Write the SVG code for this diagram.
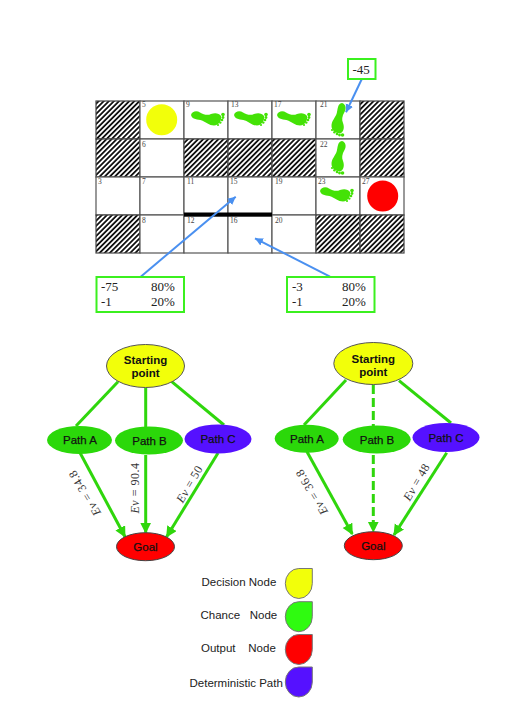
<svg xmlns="http://www.w3.org/2000/svg" width="508" height="701" viewBox="0 0 508 701">
<style>
.cell{fill:#fff;stroke:#555;stroke-width:1.2}
.hatch{fill:url(#h);stroke:#444;stroke-width:1.2}
.num{font:7.5px "Liberation Serif",serif;fill:#444}
.box{fill:#fff;stroke:#3bf01f;stroke-width:2}
.bt{font:13px "Liberation Serif",serif;fill:#222}
.b{stroke:#4a90f0;stroke-width:2;fill:none;marker-end:url(#ab)}
.g{stroke:#2fd60c;stroke-width:3;fill:none}
.ga{marker-end:url(#ag)}
.dash{stroke-dasharray:9 4}
.nt{font:bold 11.5px "Liberation Sans",sans-serif;fill:#111;text-anchor:middle}
.pt{font:11.5px "Liberation Sans",sans-serif;fill:#111;text-anchor:middle;stroke:#111;stroke-width:.25}
.ev{font:12px "Liberation Serif",serif;fill:#333;text-anchor:middle;letter-spacing:.5px}
.lt{font:11.5px "Liberation Sans",sans-serif;fill:#222;white-space:pre}
.lg{stroke:#777;stroke-width:1}
.foot{fill:#44e206}
</style>
<defs>
<pattern id="h" width="3.6" height="3.6" patternUnits="userSpaceOnUse" patternTransform="rotate(-45)"><rect width="3.6" height="3.6" fill="#fff"/><rect width="3.6" height="1.8" fill="#111"/></pattern>
<marker id="ab" markerUnits="userSpaceOnUse" markerWidth="10" markerHeight="9" refX="8" refY="4" orient="auto"><path d="M0,0L8,4L0,8Z" fill="#4a90f0"/></marker>
<marker id="ag" markerUnits="userSpaceOnUse" markerWidth="12" markerHeight="12" refX="10" refY="5.5" orient="auto"><path d="M0,0L11,5.5L0,11Z" fill="#2fd60c"/></marker>
<symbol id="f" overflow="visible">
<path class="foot" d="M-17,-4C-16,-8-11,-8.5-8,-6.5C-4,-4 0,-3.5 3,-5C7,-6.5 11,-6 13,-3C14,1 11,6.5 6,6.5C1,6.5-2,3-6,1.5C-10,0-16,1-17,-4Z"/>
<g class="foot"><circle cx="15" cy="-4.5" r="1.8"/><circle cx="15" cy="-1.5" r="1.4"/><circle cx="14" cy="1" r="1.3"/><circle cx="12.3" cy="3.6" r="1.2"/><circle cx="10" cy="6" r="1.1"/></g>
</symbol>
<path id="drop" d="M27,0V15A13.5,15 0 1 1 13.5,0Z"/>
</defs>

<g id="grid">
<rect class="hatch" x="96" y="101" width="44" height="38"/>
<rect class="cell" x="140" y="101" width="44" height="38"/>
<rect class="cell" x="184" y="101" width="44" height="38"/>
<rect class="cell" x="228" y="101" width="44" height="38"/>
<rect class="cell" x="272" y="101" width="44" height="38"/>
<rect class="cell" x="316" y="101" width="44" height="38"/>
<rect class="hatch" x="360" y="101" width="44" height="38"/>
<rect class="hatch" x="96" y="139" width="44" height="38"/>
<rect class="cell" x="140" y="139" width="44" height="38"/>
<rect class="hatch" x="184" y="139" width="44" height="38"/>
<rect class="hatch" x="228" y="139" width="44" height="38"/>
<rect class="hatch" x="272" y="139" width="44" height="38"/>
<rect class="cell" x="316" y="139" width="44" height="38"/>
<rect class="hatch" x="360" y="139" width="44" height="38"/>
<rect class="cell" x="96" y="177" width="44" height="38"/>
<rect class="cell" x="140" y="177" width="44" height="38"/>
<rect class="cell" x="184" y="177" width="44" height="38"/>
<rect class="cell" x="228" y="177" width="44" height="38"/>
<rect class="cell" x="272" y="177" width="44" height="38"/>
<rect class="cell" x="316" y="177" width="44" height="38"/>
<rect class="cell" x="360" y="177" width="44" height="38"/>
<rect class="hatch" x="96" y="215" width="44" height="38"/>
<rect class="cell" x="140" y="215" width="44" height="38"/>
<rect class="cell" x="184" y="215" width="44" height="38"/>
<rect class="cell" x="228" y="215" width="44" height="38"/>
<rect class="cell" x="272" y="215" width="44" height="38"/>
<rect class="hatch" x="316" y="215" width="44" height="38"/>
<rect class="hatch" x="360" y="215" width="44" height="38"/>
<rect x="184" y="212.5" width="88" height="4.2" fill="#000"/>
<circle cx="161.7" cy="119.7" r="15.5" fill="#f2ff0a"/>
<circle cx="382.7" cy="196" r="15.5" fill="#ff0000"/>
<g class="num">
<text x="142" y="107">5</text><text x="186" y="107">9</text><text x="231" y="107">13</text><text x="274" y="107">17</text><text x="320" y="107">21</text>
<text x="142" y="147">6</text><text x="320" y="147">22</text>
<text x="98" y="184">3</text><text x="142" y="184">7</text><text x="187" y="184">11</text><text x="230" y="184">15</text><text x="275" y="184">19</text><text x="318" y="184">23</text><text x="362" y="184">27</text>
<text x="142" y="223">8</text><text x="187" y="223">12</text><text x="230" y="223">16</text><text x="275" y="223">20</text>
</g>
<use href="#f" x="208" y="119"/>
<use href="#f" x="251" y="119"/>
<use href="#f" x="294" y="119"/>
<use href="#f" transform="translate(338,120) rotate(90)"/>
<use href="#f" transform="translate(338,158) rotate(90)"/>
<use href="#f" transform="translate(337,195)"/>
</g>

<g id="connectors">
<path class="b" d="M361.7,79.3L346,112.3"/>
<path class="b" d="M140.7,276.7L235.7,196.7"/>
<path class="b" d="M330,276.7L255,238.3"/>
<path class="g" d="M118,381.7L76,426"/>
<path class="g" d="M145.7,388V427"/>
<path class="g" d="M171.7,381.7L224,425"/>
<path class="g ga" d="M80,452.7L125,536.7"/>
<path class="g ga" d="M145.7,455V532.7"/>
<path class="g ga" d="M218,453L166.7,536.7"/>
<path class="g" d="M346,380L304,425"/>
<path class="g dash" d="M373.3,385V427"/>
<path class="g" d="M399,380.7L451,423"/>
<path class="g ga" d="M307,451.7L352.3,534"/>
<path class="g ga dash" d="M373.3,455V531.7"/>
<path class="g ga" d="M446.7,452.7L394,535"/>
</g>

<g id="box45"><rect class="box" x="348" y="59" width="27.5" height="20"/><text class="bt" x="352.5" y="73.5">-45</text></g>
<g id="boxL"><rect class="box" x="96.5" y="277" width="87.5" height="35"/><text class="bt" x="101" y="291">-75</text><text class="bt" x="151" y="291">80%</text><text class="bt" x="101" y="306">-1</text><text class="bt" x="151" y="306">20%</text></g>
<g id="boxR"><rect class="box" x="287" y="277" width="87.5" height="35"/><text class="bt" x="292" y="291">-3</text><text class="bt" x="342" y="291">80%</text><text class="bt" x="292" y="306">-1</text><text class="bt" x="342" y="306">20%</text></g>

<g id="l-start"><ellipse cx="145.5" cy="366" rx="39" ry="21.5" fill="#f2ff0a" stroke="#555"/><text class="nt" x="145.5" y="364">Starting</text><text class="nt" x="145.5" y="377">point</text></g>
<g id="l-a"><ellipse cx="79.5" cy="440" rx="32.5" ry="14" fill="#2bd80a"/><text class="pt" x="80" y="444">Path A</text></g>
<g id="l-b"><ellipse cx="149" cy="440.5" rx="34" ry="14" fill="#2bd80a"/><text class="pt" x="149.5" y="444.5">Path B</text></g>
<g id="l-c"><ellipse cx="218" cy="439" rx="33.5" ry="14.5" fill="#5511ff"/><text class="pt" x="218" y="443">Path C</text></g>
<g id="l-goal"><ellipse cx="145.5" cy="546.7" rx="29" ry="14" fill="#f00" stroke="#444"/><text class="pt" x="145.5" y="551">Goal</text></g>
<text class="ev" transform="translate(88,491) rotate(238.7)"><tspan font-style="italic">Ev</tspan> = 34.8</text>
<text class="ev" transform="translate(139,488) rotate(-90)"><tspan font-style="italic">Ev</tspan> = 90.4</text>
<text class="ev" transform="translate(193,486) rotate(-60)"><tspan font-style="italic">Ev</tspan> = 50</text>

<g id="r-start"><ellipse cx="373.3" cy="363.5" rx="39.5" ry="21" fill="#f2ff0a" stroke="#555"/><text class="nt" x="373.3" y="363">Starting</text><text class="nt" x="373.3" y="376">point</text></g>
<g id="r-a"><ellipse cx="306.7" cy="438.7" rx="32" ry="14" fill="#2bd80a"/><text class="pt" x="307" y="443">Path A</text></g>
<g id="r-b"><ellipse cx="376.7" cy="439.5" rx="34" ry="14" fill="#2bd80a"/><text class="pt" x="377" y="443.5">Path B</text></g>
<g id="r-c"><ellipse cx="446" cy="437.5" rx="33.5" ry="14.5" fill="#5511ff"/><text class="pt" x="446" y="441.5">Path C</text></g>
<g id="r-goal"><ellipse cx="373.3" cy="545.7" rx="29" ry="14" fill="#f00" stroke="#444"/><text class="pt" x="373.3" y="550">Goal</text></g>
<text class="ev" transform="translate(315,490) rotate(238.7)"><tspan font-style="italic">Ev</tspan> = 36.8</text>
<text class="ev" transform="translate(420,484) rotate(-60)"><tspan font-style="italic">Ev</tspan> = 48</text>

<g id="legend">
<text class="lt" x="201.5" y="586">Decision Node</text>
<text class="lt" x="200.5" y="619">Chance   Node</text>
<text class="lt" x="201" y="652">Output    Node</text>
<text class="lt" x="189.5" y="687">Deterministic Path</text>
<use href="#drop" class="lg" x="285.3" y="568.5" fill="#f2ff0a"/>
<use href="#drop" class="lg" x="285.3" y="601.7" fill="#2ffb10"/>
<use href="#drop" class="lg" x="285.3" y="634.5" fill="#f00"/>
<use href="#drop" class="lg" x="285.3" y="667" fill="#5511ff"/>
</g>
</svg>
